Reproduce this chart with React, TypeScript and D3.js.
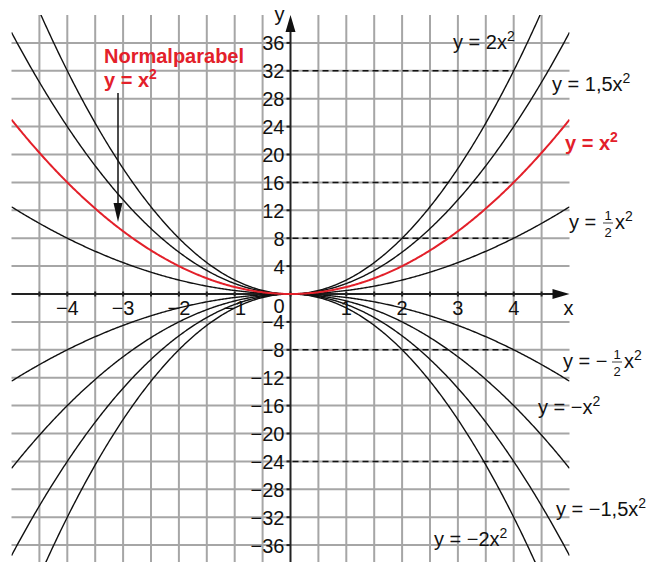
import * as React from "react";
import * as d3 from "d3";

// coefficients a of y = a * x^2
const coefficients = [2, 1.5, 1, 0.5, -0.5, -1, -1.5, -2];
const highlighted = 1;

const xTicks = [-4, -3, -2, -1, 1, 2, 3, 4];
const yTicks = [36, 32, 28, 24, 20, 16, 12, 8, 4, -4, -8, -12, -16, -20, -24, -28, -32, -36];
const dashedLevels = [32, 16, 8, -8, -24];
const dashedToX = 4;

// curve labels (plain ones): main text + exponent
const curveLabels = [
  { a: 2, text: "y = 2x" },
  { a: 1.5, text: "y = 1,5x" },
  { a: 1, text: "y = x" },
  { a: -1, text: "y = \u2212x" },
  { a: -1.5, text: "y = \u22121,5x" },
  { a: -2, text: "y = \u22122x" },
];

const RED = "#e3202a";
const FONT = "'Liberation Sans', Arial, Helvetica, sans-serif";

function Label(props: { x: number; y: number; text: string; color?: string; bold?: boolean }) {
  return (
    <text
      x={props.x}
      y={props.y}
      fontSize={20}
      fill={props.color || "#111"}
      fontWeight={props.bold ? "bold" : "normal"}
    >
      {props.text}
      <tspan fontSize={14} dy={-8}>
        2
      </tspan>
    </text>
  );
}

export default function App() {
  const width = 653;
  const height = 562;

  const x = d3.scaleLinear().domain([-5, 5]).range([11.5, 569.5]);
  const y = d3.scaleLinear().domain([-40, 40]).range([573, 15]);

  const gridX = d3.range(-4.5, 4.51, 0.5).filter((v) => Math.abs(v) > 1e-9);
  const gridY = d3.range(-36, 36.1, 4).filter((v) => v !== 0);
  const axisTicks = d3.range(-4.5, 4.51, 0.5);

  const samples = d3.range(-5, 5.0001, 0.02);
  const line = d3.line<number>();

  const curvePath = (a: number) =>
    line.x((d) => x(d)).y((d) => y(a * d * d))(samples) || "";

  const labelPos: Record<number, [number, number]> = {
    2: [453, 49],
    1.5: [552, 91],
    1: [565, 150],
    [-1]: [538, 414],
    [-1.5]: [556, 516],
    [-2]: [434, 546],
  };

  return (
    <svg
      width={width}
      height={height}
      style={{ position: "absolute", left: 0, top: 0, background: "#fff" }}
      fontFamily={FONT}
    >
      <defs>
        <clipPath id="plot">
          <rect x={x(-5)} y={y(40)} width={x(5) - x(-5)} height={y(-40) - y(40)} />
        </clipPath>
      </defs>

      {/* grid */}
      <g stroke="#a6a6a6" strokeWidth={2}>
        {gridX.map((v) => (
          <line key={"gx" + v} x1={x(v)} x2={x(v)} y1={y(40)} y2={height} />
        ))}
        {gridY.map((v) => (
          <line key={"gy" + v} x1={x(-5)} x2={x(5)} y1={y(v)} y2={y(v)} />
        ))}
      </g>

      {/* dashed helper lines */}
      <g stroke="#111" strokeWidth={1.5} strokeDasharray="6,4">
        {dashedLevels.map((v) => (
          <line key={"d" + v} x1={x(0) + 2} x2={x(dashedToX)} y1={y(v)} y2={y(v)} />
        ))}
      </g>

      {/* axes */}
      <g stroke="#222" strokeWidth={2}>
        <line x1={x(-5)} x2={x(5) - 14} y1={y(0)} y2={y(0)} />
        <line x1={x(0)} x2={x(0)} y1={height} y2={y(40) + 14} />
        {axisTicks.map((v) => (
          <line key={"tx" + v} x1={x(v)} x2={x(v)} y1={y(0) - 2.5} y2={y(0) + 2.5} />
        ))}
        {yTicks.map((v) => (
          <line key={"ty" + v} x1={x(0) - 4} x2={x(0)} y1={y(v)} y2={y(v)} />
        ))}
      </g>
      <path
        d={`M${x(5)},${y(0)} L${x(5) - 17},${y(0) - 5} L${x(5) - 17},${y(0) + 5} Z`}
        fill="#111"
      />
      <path
        d={`M${x(0)},${y(40)} L${x(0) - 5},${y(40) + 17} L${x(0) + 5},${y(40) + 17} Z`}
        fill="#111"
      />

      {/* curves */}
      <g clipPath="url(#plot)" fill="none">
        {coefficients
          .filter((a) => a !== highlighted)
          .map((a) => (
            <path key={"c" + a} d={curvePath(a)} stroke="#111" strokeWidth={1.4} />
          ))}
        <path d={curvePath(highlighted)} stroke={RED} strokeWidth={2} />
      </g>

      {/* tick labels */}
      <g fontSize={20} fill="#111">
        {yTicks.map((v) => (
          <text key={"ly" + v} x={x(0) - 6} y={y(v) + 7.5} textAnchor="end">
            {d3.format("d")(v)}
          </text>
        ))}
        {xTicks.map((v) => (
          <text key={"lx" + v} x={x(v)} y={y(0) + 21} textAnchor="middle">
            {d3.format("d")(v)}
          </text>
        ))}
        <text x={x(0) - 6} y={y(0) + 19} textAnchor="end">
          0
        </text>
        <text x={x(5) - 6} y={y(0) + 21}>
          x
        </text>
        <text x={x(0) - 16} y={y(40) + 6}>
          y
        </text>
      </g>

      {/* curve labels */}
      {curveLabels.map((l) => {
        const p = labelPos[l.a];
        const red = l.a === highlighted;
        return (
          <Label
            key={"l" + l.a}
            x={p[0]}
            y={p[1]}
            text={l.text}
            color={red ? RED : "#111"}
            bold={red}
          />
        );
      })}

      {/* y = 1/2 x^2 */}
      <g fill="#111">
        <text x={569} y={229} fontSize={20}>
          y =
        </text>
        <text x={608} y={220} fontSize={13} textAnchor="middle">
          1
        </text>
        <line x1={603} x2={613} y1={223} y2={223} stroke="#111" strokeWidth={0.8} />
        <text x={608} y={237} fontSize={13} textAnchor="middle">
          2
        </text>
        <text x={615} y={229} fontSize={20}>
          x<tspan fontSize={14} dy={-8}>2</tspan>
        </text>
      </g>

      {/* y = -1/2 x^2 */}
      <g fill="#111">
        <text x={563} y={368} fontSize={20}>
          y = {"\u2212"}
        </text>
        <text x={617} y={359} fontSize={13} textAnchor="middle">
          1
        </text>
        <line x1={612} x2={622} y1={362} y2={362} stroke="#111" strokeWidth={0.8} />
        <text x={617} y={376} fontSize={13} textAnchor="middle">
          2
        </text>
        <text x={624} y={368} fontSize={20}>
          x<tspan fontSize={14} dy={-8}>2</tspan>
        </text>
      </g>

      {/* Normalparabel annotation */}
      <g fill={RED} fontWeight="bold" fontSize={20}>
        <text x={104} y={63}>Normalparabel</text>
        <text x={104} y={87}>
          y = x<tspan fontSize={14} dy={-8}>2</tspan>
        </text>
      </g>
      <line x1={118} x2={118} y1={93} y2={206} stroke="#111" strokeWidth={1.5} />
      <path d="M118,222 L113.5,203 L122.5,203 Z" fill="#111" />
    </svg>
  );
}
